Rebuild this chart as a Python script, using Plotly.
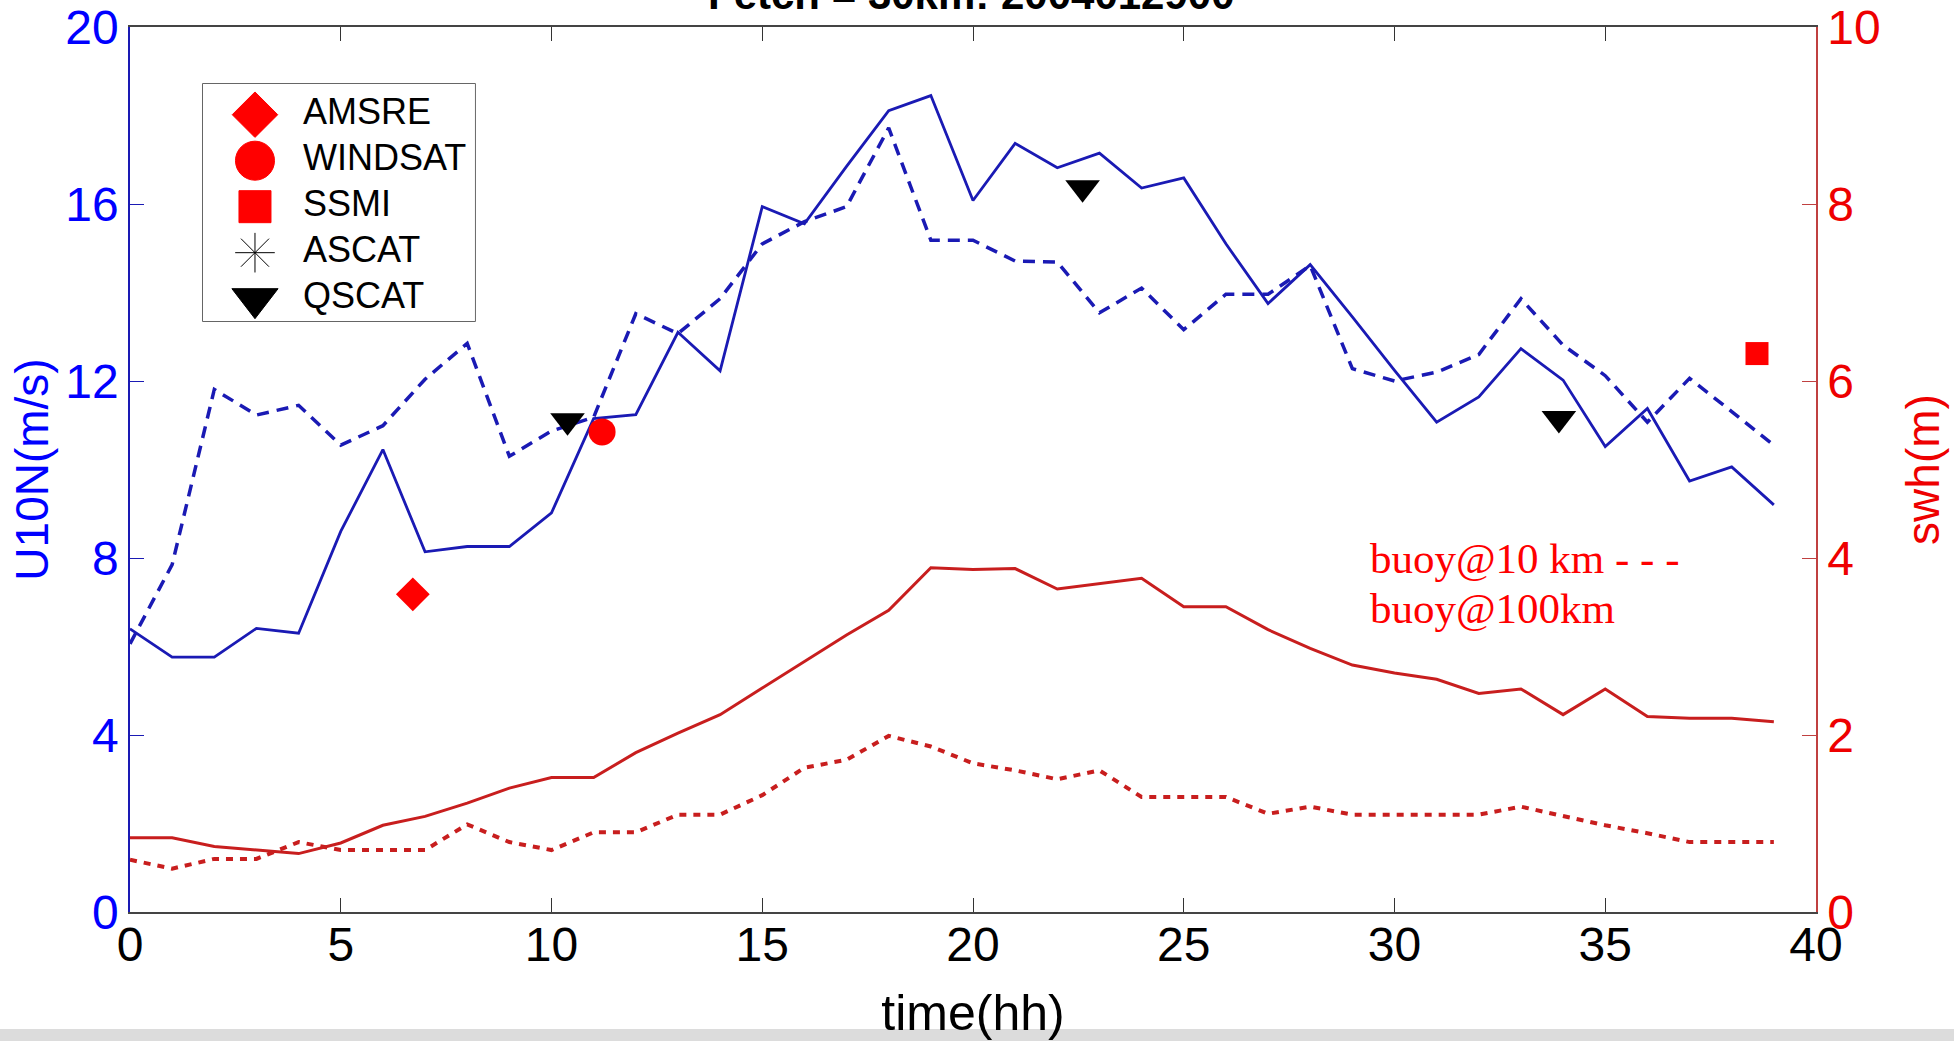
import plotly.graph_objects as go

# ---------------- data ----------------
hours = list(range(40))

u10_100km = [6.40, 5.76, 5.76, 6.41, 6.30, 8.60, 10.45, 8.14, 8.26, 8.26,
             9.02, 11.15, 11.24, 13.10, 12.23, 15.94, 15.55, 16.85, 18.11, 18.45,
             16.08, 17.37, 16.82, 17.15, 16.36, 16.59, 15.10, 13.75, 14.63, 13.45,
             12.24, 11.07, 11.64, 12.73, 12.02, 10.52, 11.38, 9.74, 10.06, 9.20]

u10_10km = [6.06, 7.85, 11.81, 11.23, 11.45, 10.55, 10.99, 12.04, 12.85, 10.30,
            10.87, 11.18, 13.52, 13.07, 13.86, 15.10, 15.60, 15.94, 17.72, 15.18,
            15.18, 14.71, 14.69, 13.54, 14.10, 13.16, 13.96, 13.96, 14.61, 12.28,
            12.00, 12.20, 12.60, 13.86, 12.81, 12.12, 11.07, 12.06, 11.31, 10.55]

swh_100km = [0.84, 0.84, 0.74, 0.70, 0.66, 0.78, 0.98, 1.08, 1.23, 1.40,
             1.52, 1.52, 1.80, 2.02, 2.23, 2.53, 2.83, 3.13, 3.41, 3.89,
             3.87, 3.88, 3.65, 3.71, 3.77, 3.45, 3.45, 3.19, 2.98, 2.79,
             2.70, 2.63, 2.47, 2.52, 2.23, 2.52, 2.21, 2.19, 2.19, 2.15]

swh_10km = [0.59, 0.49, 0.60, 0.60, 0.79, 0.70, 0.70, 0.70, 0.99, 0.79,
            0.70, 0.90, 0.90, 1.10, 1.10, 1.32, 1.63, 1.72, 1.99, 1.87,
            1.68, 1.60, 1.50, 1.60, 1.30, 1.30, 1.30, 1.11, 1.19, 1.10,
            1.10, 1.10, 1.10, 1.19, 1.08, 0.98, 0.89, 0.79, 0.79, 0.79]

amsre_t, amsre_u = [6.71], [7.18]
windsat_t, windsat_u = [11.2], [10.85]
ssmi_t, ssmi_u = [38.6], [12.62]
qscat_t = [10.38, 22.6, 33.9]
qscat_u = [11.1, 16.37, 11.15]

legend_labels = ["AMSRE", "WINDSAT", "SSMI", "ASCAT", "QSCAT"]
legend_rows = [0, 1, 2, 3, 4]

x_ticks = [0, 5, 10, 15, 20, 25, 30, 35, 40]
y_ticks = [0, 4, 8, 12, 16, 20]
y2_ticks = [0, 2, 4, 6, 8, 10]

title_text = "Fetch = 30km: 2004012900"
buoy_line1 = "buoy@10 km - - -"
buoy_line2 = "buoy@100km"

# ---------------- styles ----------------
BLUE_LINE = "#1a1ab4"
RED_LINE = "#c81e1e"
BLUE_TXT = "#0000ff"
RED_TXT = "#ee0000"
SANS = "Liberation Sans, Arial, sans-serif"
SERIF = "Liberation Serif, Times New Roman, serif"

legend_symbols = ["diamond", "circle", "square", "asterisk-open", "triangle-down"]
legend_sizes = [35, 39, 32, 33, 40]
legend_colors = ["#ff0000", "#ff0000", "#ff0000", "black", "black"]

fig = go.Figure()

# lines
fig.add_trace(go.Scatter(x=hours, y=u10_100km, mode="lines", showlegend=False,
                         line=dict(color=BLUE_LINE, width=2.8)))
fig.add_trace(go.Scatter(x=hours, y=u10_10km, mode="lines", showlegend=False,
                         line=dict(color=BLUE_LINE, width=3.5, dash="12px,8px")))
fig.add_trace(go.Scatter(x=hours, y=swh_100km, mode="lines", showlegend=False, yaxis="y2",
                         line=dict(color=RED_LINE, width=3)))
fig.add_trace(go.Scatter(x=hours, y=swh_10km, mode="lines", showlegend=False, yaxis="y2",
                         line=dict(color=RED_LINE, width=4, dash="7px,7px")))

# satellite markers
fig.add_trace(go.Scatter(x=amsre_t, y=amsre_u, mode="markers", name="AMSRE", showlegend=False,
                         marker=dict(symbol="diamond", size=26, color="#ff0000", opacity=1)))
fig.add_trace(go.Scatter(x=windsat_t, y=windsat_u, mode="markers", name="WINDSAT", showlegend=False,
                         marker=dict(symbol="circle", size=27, color="#ff0000", opacity=1)))
fig.add_trace(go.Scatter(x=ssmi_t, y=ssmi_u, mode="markers", name="SSMI", showlegend=False,
                         marker=dict(symbol="square", size=23, color="#ff0000", opacity=1)))
fig.add_trace(go.Scatter(x=qscat_t, y=qscat_u, mode="markers", name="QSCAT", showlegend=False,
                         marker=dict(symbol="triangle-down", size=30, color="black", opacity=1)))

# legend (drawn on its own hidden axes, one row per entry)
fig.add_trace(go.Scatter(x=[0] * len(legend_rows), y=legend_rows, mode="markers",
                         xaxis="x3", yaxis="y3", showlegend=False, hoverinfo="skip",
                         marker=dict(symbol=legend_symbols, size=legend_sizes,
                                     color=legend_colors, opacity=1,
                                     line=dict(color=legend_colors, width=1))))
fig.add_trace(go.Scatter(x=[1.0] * len(legend_rows), y=legend_rows, mode="text",
                         text=legend_labels, textposition="middle right",
                         xaxis="x3", yaxis="y3", showlegend=False, hoverinfo="skip",
                         textfont=dict(family=SANS, size=36, color="black")))

LEG_X = [0.0433, 0.2046]
LEG_Y = [0.6678, 0.9356]

fig.update_layout(
    width=1954, height=1041,
    margin=dict(l=130, r=138, t=27, b=129),
    paper_bgcolor="white", plot_bgcolor="white",
    font=dict(family=SANS, size=48, color="black"),
    showlegend=False,
    xaxis=dict(range=[0, 40], tickvals=x_ticks, ticks="inside", ticklen=14,
               tickcolor="#333333", showline=True, linecolor="#444444", linewidth=1.5,
               mirror="ticks", showgrid=False, zeroline=False, automargin=False,
               tickfont=dict(size=48, color="black"), ticklabelstandoff=-10,
               title=dict(text="time(hh)", font=dict(size=50, color="black"), standoff=32)),
    yaxis=dict(range=[0, 20], tickvals=y_ticks, ticks="inside", ticklen=14,
               tickcolor=BLUE_LINE, showline=True, linecolor=BLUE_LINE, linewidth=1.5,
               showgrid=False, zeroline=False, automargin=False,
               tickfont=dict(size=48, color=BLUE_TXT),
               title=dict(text="U10N(m/s)", font=dict(size=46, color=BLUE_TXT), standoff=2)),
    yaxis2=dict(range=[0, 10], tickvals=y2_ticks, overlaying="y", side="right",
                ticks="inside", ticklen=14, tickcolor="#c04040",
                showline=True, linecolor="#c04040", linewidth=1.5,
                showgrid=False, zeroline=False, automargin=False,
                tickfont=dict(size=48, color=RED_TXT),
                title=dict(text="swh(m)", font=dict(size=46, color=RED_TXT), standoff=27)),
    xaxis3=dict(domain=LEG_X, anchor="y3", range=[-1.083, 4.583], visible=False,
                fixedrange=True),
    yaxis3=dict(domain=LEG_Y, anchor="x3", range=[4.485, -0.667], visible=False,
                fixedrange=True),
    annotations=[
        dict(text=title_text, xref="paper", yref="paper", x=0.4994, y=1.0074,
             xanchor="center", yanchor="bottom", showarrow=False,
             font=dict(family=SANS, size=42, color="black", weight="bold")),
        dict(text=buoy_line1, xref="paper", yref="paper", x=0.7345, y=0.3989,
             xanchor="left", yanchor="middle", align="left", showarrow=False,
             font=dict(family=SERIF, size=43, color="#ff0000")),
        dict(text=buoy_line2, xref="paper", yref="paper", x=0.7345, y=0.3424,
             xanchor="left", yanchor="middle", align="left", showarrow=False,
             font=dict(family=SERIF, size=43, color="#ff0000")),
    ],
    shapes=[
        dict(type="rect", xref="paper", yref="paper", x0=LEG_X[0], x1=LEG_X[1],
             y0=LEG_Y[0], y1=LEG_Y[1], fillcolor="white",
             line=dict(color="#333333", width=1.5), layer="below"),
        dict(type="rect", xref="paper", yref="paper", x0=-0.1, x1=1.1,
             y0=-0.1322, y1=-0.2, fillcolor="#dcdcdc", line=dict(width=0), layer="above"),
    ],
)

fig.write_html("out.html")
